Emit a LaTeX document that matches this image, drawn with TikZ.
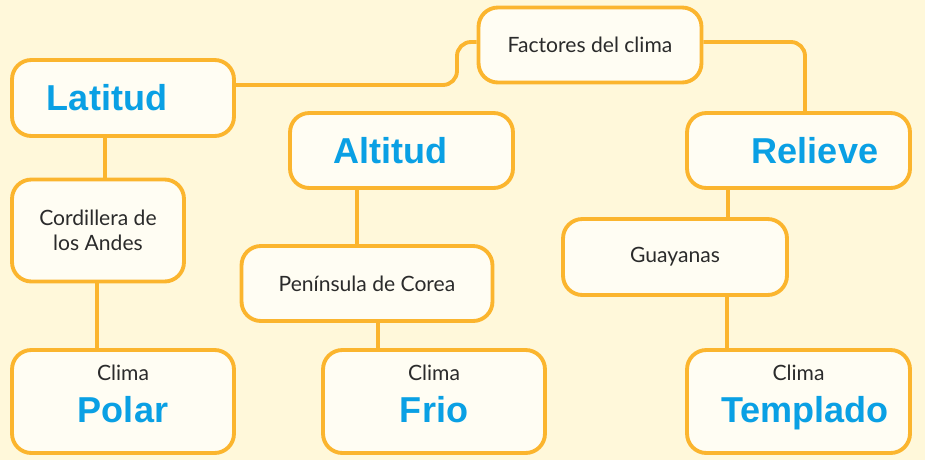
\documentclass[tikz,border=0pt]{standalone}
\usepackage{fontspec}
\setmainfont{Lato}
\newfontfamily\arialfont{Liberation Sans}
\definecolor{bgcream}{HTML}{FFF8DA}
\definecolor{boxfill}{HTML}{FFFDF3}
\definecolor{lineorange}{HTML}{FBB52E}
\definecolor{titleblue}{HTML}{0AA0E4}
\definecolor{txtgray}{HTML}{2B2B2B}
\newcommand{\bigword}[1]{{\color{titleblue}\arialfont\bfseries\fontsize{20.5}{24}\selectfont #1}}
\begin{document}
\begin{tikzpicture}[x=0.02cm, y=-0.02cm, every node/.style={font=\fontsize{12}{14}\selectfont, text=txtgray},
  box/.style={draw=lineorange, line width=2.2pt, fill=boxfill, rounded corners=11pt, align=center, inner sep=2pt},
  conn/.style={draw=lineorange, line width=2.2pt, rounded corners=8pt}]
  \fill[bgcream] (0,0) rectangle (925,460);
  \useasboundingbox (0,0) rectangle (925,460);
  % Factors
  \node[box,minimum width=4.46cm,minimum height=1.5cm] (fac) at (590,45) {Factores del clima};
  \node[box,minimum width=4.44cm,minimum height=1.52cm] (lat) at (123,98) {\bigword{Latitud}\hspace*{0.64cm}};
  \node[box,minimum width=4.46cm,minimum height=1.5cm] (alt) at (401.5,150.5) {\bigword{Altitud}\hspace*{0.44cm}};
  \node[box,minimum width=4.46cm,minimum height=1.5cm] (rel) at (798.5,150.5) {\hspace*{0.66cm}\bigword{Relieve}};
  % Places
  \node[box,minimum width=3.44cm,minimum height=2.04cm] (cor) at (98,230.5) {Cordillera de\\los Andes};
  \node[box,minimum width=5.02cm,minimum height=1.5cm] (pen) at (367,283.5) {Península de Corea};
  \node[box,minimum width=4.48cm,minimum height=1.52cm] (guy) at (675,257) {Guayanas};
  % Climates
  \node[box,minimum width=4.44cm,minimum height=2.06cm] (pol) at (123,401.5) {Clima\\[8pt]\bigword{Polar}\rule[-9pt]{0pt}{9pt}};
  \node[box,minimum width=4.44cm,minimum height=2.06cm] (fri) at (434,401.5) {Clima\\[8pt]\bigword{Frio}\rule[-9pt]{0pt}{9pt}};
  \node[box,minimum width=4.46cm,minimum height=2.06cm] (tem) at (798.5,401.5) {Clima\\[8pt]\hspace*{0.26cm}\bigword{Templado}\rule[-9pt]{0pt}{9pt}};
  % Connectors
  \draw[conn] (lat.east |- 0,85) -- (457,85) -- (457,42) -- (fac.west |- 0,42);
  \draw[conn] (fac.east |- 0,42) -- (805,42) -- (rel.north -| 805,0);
  \draw[conn] (lat.south -| 105,0) -- (cor.north -| 105,0);
  \draw[conn] (cor.south -| 97,0) -- (pol.north -| 97,0);
  \draw[conn] (alt.south -| 357,0) -- (pen.north -| 357,0);
  \draw[conn] (pen.south -| 378,0) -- (fri.north -| 378,0);
  \draw[conn] (rel.south -| 728,0) -- (guy.north -| 728,0);
  \draw[conn] (guy.south -| 727,0) -- (tem.north -| 727,0);
\end{tikzpicture}
\end{document}
